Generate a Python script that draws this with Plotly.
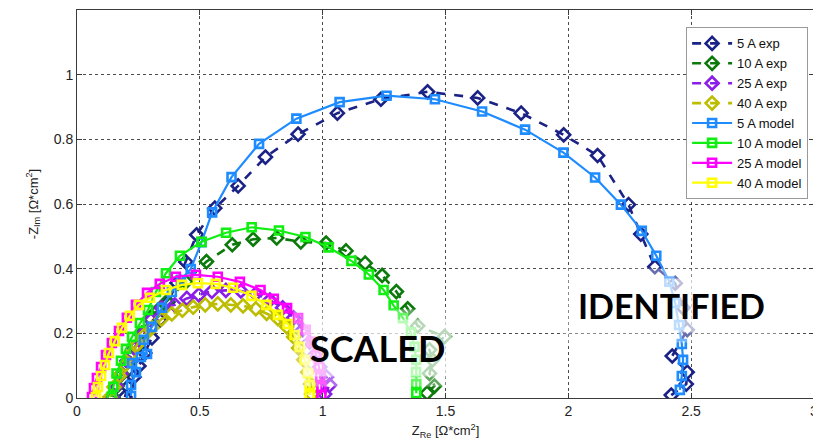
import plotly.graph_objects as go

# ---------------- data (Z_Re, -Z_Im) ----------------
exp5_x = [0.195, 0.207, 0.232, 0.252, 0.276, 0.305, 0.337, 0.370, 0.407, 0.443, 0.487, 0.561, 0.656, 0.767, 0.900, 1.060, 1.237, 1.427, 1.631, 1.808, 1.981, 2.119, 2.245, 2.295, 2.352, 2.435, 2.467, 2.484, 2.423, 2.484, 2.480, 2.419]
exp5_y = [0.003, 0.034, 0.065, 0.099, 0.139, 0.186, 0.241, 0.297, 0.356, 0.421, 0.505, 0.587, 0.656, 0.745, 0.816, 0.881, 0.924, 0.947, 0.928, 0.881, 0.814, 0.750, 0.598, 0.507, 0.406, 0.355, 0.279, 0.211, 0.130, 0.080, 0.043, 0.009]

exp10_x = [0.146, 0.163, 0.183, 0.207, 0.236, 0.264, 0.297, 0.330, 0.365, 0.443, 0.527, 0.632, 0.717, 0.813, 0.911, 1.014, 1.095, 1.173, 1.242, 1.300, 1.346, 1.387, 1.496, 1.435, 1.447, 1.435, 1.455, 1.425]
exp10_y = [0.003, 0.037, 0.074, 0.111, 0.155, 0.201, 0.247, 0.272, 0.298, 0.359, 0.422, 0.474, 0.491, 0.495, 0.483, 0.479, 0.455, 0.417, 0.379, 0.329, 0.276, 0.223, 0.190, 0.149, 0.118, 0.076, 0.037, 0.015]

exp25_x = [0.142, 0.159, 0.179, 0.203, 0.232, 0.264, 0.301, 0.344, 0.398, 0.447, 0.496, 0.549, 0.606, 0.667, 0.728, 0.785, 0.837, 0.882, 0.919, 0.947, 0.967, 0.988, 1.016, 1.028, 1.008]
exp25_y = [0.003, 0.037, 0.074, 0.115, 0.155, 0.195, 0.241, 0.278, 0.288, 0.308, 0.319, 0.330, 0.333, 0.331, 0.322, 0.303, 0.279, 0.248, 0.211, 0.173, 0.133, 0.096, 0.065, 0.040, 0.012]

exp40_x = [0.134, 0.150, 0.171, 0.195, 0.220, 0.244, 0.272, 0.305, 0.344, 0.386, 0.429, 0.473, 0.522, 0.573, 0.626, 0.676, 0.728, 0.772, 0.818, 0.854, 0.882, 0.902, 0.923, 0.939, 0.951, 0.955]
exp40_y = [0.003, 0.034, 0.068, 0.102, 0.136, 0.164, 0.192, 0.217, 0.244, 0.260, 0.272, 0.281, 0.288, 0.291, 0.288, 0.285, 0.276, 0.262, 0.245, 0.220, 0.189, 0.155, 0.118, 0.080, 0.043, 0.012]

mod5_x = [0.220, 0.220, 0.240, 0.224, 0.260, 0.285, 0.272, 0.305, 0.346, 0.386, 0.423, 0.463, 0.507, 0.550, 0.629, 0.741, 0.893, 1.069, 1.260, 1.457, 1.649, 1.824, 1.980, 2.109, 2.214, 2.299, 2.358, 2.411, 2.435, 2.451, 2.462, 2.467, 2.462, 2.454]
mod5_y = [0.006, 0.040, 0.080, 0.108, 0.127, 0.136, 0.180, 0.220, 0.279, 0.328, 0.365, 0.399, 0.482, 0.574, 0.683, 0.786, 0.864, 0.915, 0.935, 0.924, 0.886, 0.830, 0.759, 0.682, 0.598, 0.517, 0.440, 0.360, 0.294, 0.226, 0.167, 0.118, 0.068, 0.025]

mod10_x = [0.141, 0.148, 0.161, 0.179, 0.199, 0.224, 0.256, 0.289, 0.321, 0.362, 0.419, 0.507, 0.607, 0.711, 0.822, 0.930, 1.024, 1.117, 1.188, 1.248, 1.289, 1.327, 1.359, 1.374, 1.381, 1.380, 1.381, 1.381]
mod10_y = [0.004, 0.035, 0.076, 0.115, 0.152, 0.189, 0.232, 0.272, 0.328, 0.386, 0.440, 0.483, 0.511, 0.528, 0.518, 0.498, 0.466, 0.424, 0.382, 0.334, 0.286, 0.247, 0.203, 0.158, 0.118, 0.080, 0.043, 0.015]

mod25_x = [0.061, 0.069, 0.081, 0.098, 0.118, 0.142, 0.171, 0.203, 0.240, 0.285, 0.337, 0.402, 0.484, 0.573, 0.663, 0.747, 0.801, 0.855, 0.900, 0.931, 0.954, 0.974, 0.985, 0.990, 0.995, 0.995]
mod25_y = [0.003, 0.031, 0.062, 0.096, 0.133, 0.170, 0.207, 0.248, 0.288, 0.325, 0.353, 0.375, 0.381, 0.375, 0.359, 0.334, 0.307, 0.278, 0.247, 0.211, 0.174, 0.133, 0.097, 0.065, 0.034, 0.009]

mod40_x = [0.077, 0.085, 0.098, 0.114, 0.130, 0.154, 0.183, 0.215, 0.252, 0.297, 0.362, 0.427, 0.492, 0.565, 0.635, 0.710, 0.771, 0.818, 0.858, 0.886, 0.907, 0.927, 0.940, 0.947, 0.947]
mod40_y = [0.003, 0.034, 0.068, 0.102, 0.139, 0.176, 0.217, 0.254, 0.288, 0.310, 0.334, 0.350, 0.355, 0.353, 0.341, 0.316, 0.288, 0.257, 0.229, 0.195, 0.158, 0.118, 0.077, 0.040, 0.009]

x_ticks = [0, 0.5, 1, 1.5, 2, 2.5, 3]
x_tick_labels = ["0", "0.5", "1", "1.5", "2", "2.5", "3"]
y_ticks = [0, 0.2, 0.4, 0.6, 0.8, 1.0]
y_tick_labels = ["0", "0.2", "0.4", "0.6", "0.8", "1"]

# ---------------- figure ----------------
fig = go.Figure()

exp_series = [
    ("5 A exp", exp5_x, exp5_y, "#1b2286"),
    ("10 A exp", exp10_x, exp10_y, "#0b7a0b"),
    ("25 A exp", exp25_x, exp25_y, "#8a1ee8"),
    ("40 A exp", exp40_x, exp40_y, "#bdbd00"),
]
mod_series = [
    ("5 A model", mod5_x, mod5_y, "#1e8cff"),
    ("10 A model", mod10_x, mod10_y, "#11ee11"),
    ("25 A model", mod25_x, mod25_y, "#ff00ff"),
    ("40 A model", mod40_x, mod40_y, "#ffff00"),
]

for name, xs, ys, col in exp_series:
    fig.add_trace(go.Scatter(
        x=xs, y=ys, name=name, mode="lines+markers",
        line=dict(color=col, width=2.6, dash="dash"),
        marker=dict(symbol="diamond-open", size=10, color=col, line=dict(width=2.6, color=col)),
    ))
for name, xs, ys, col in mod_series:
    fig.add_trace(go.Scatter(
        x=xs, y=ys, name=name, mode="lines+markers",
        line=dict(color=col, width=2.2),
        marker=dict(symbol="square-open", size=8, color=col, line=dict(width=2.6, color=col)),
    ))

axis_common = dict(
    showline=True, linecolor="#3a3a3a", linewidth=1, mirror="ticks",
    ticks="inside", ticklen=5, tickcolor="#3a3a3a",
    showgrid=True, gridcolor="rgba(30,30,30,0.8)", griddash="dot", gridwidth=1,
    zeroline=False, ticklabeloverflow="allow",
    tickfont=dict(family="Arial, Liberation Sans, sans-serif", size=14, color="#222"),
    title_font=dict(family="Arial, Liberation Sans, sans-serif", size=13, color="#222"),
)

fig.update_xaxes(range=[0, 3], tickvals=x_ticks, ticktext=x_tick_labels,
                 title_text="Z<sub>Re</sub> [Ω*cm<sup>2</sup>]", title_standoff=8, **axis_common)
fig.update_yaxes(range=[0, 1.2], tickvals=y_ticks, ticktext=y_tick_labels,
                 title_text="-Z<sub>Im</sub> [Ω*cm<sup>2</sup>]", title_standoff=12, **axis_common)

# soft white halo behind the labels (outer faint box + inner stronger box)
labels = [
    ("SCALED", 1.224, 0.155, 36),
    ("IDENTIFIED", 2.419, 0.285, 34),
]
for txt, lx, ly, fs in labels:
    fig.add_annotation(x=lx, y=ly, xref="x", yref="y", text="<b>" + txt + "</b>",
                       showarrow=False,
                       font=dict(family="Lato, Roboto, sans-serif", size=fs, color="rgba(0,0,0,0)"),
                       bgcolor="rgba(255,255,255,0.35)", borderpad=16)
    fig.add_annotation(x=lx, y=ly, xref="x", yref="y", text="<b>" + txt + "</b>",
                       showarrow=False,
                       font=dict(family="Lato, Roboto, sans-serif", size=fs, color="#000000"),
                       bgcolor="rgba(255,255,255,0.55)", borderpad=6)

# page body adds an 8px offset; figure sized so the plot area lands where the reference has it
fig.update_layout(
    width=813, height=437,
    margin=dict(l=69, r=7, t=2, b=47),
    paper_bgcolor="white", plot_bgcolor="white",
    showlegend=True,
    legend=dict(
        x=0.992, y=0.955, xanchor="right", yanchor="top",
        bgcolor="white", bordercolor="#9a9a9a", borderwidth=1,
        font=dict(family="Arial, Liberation Sans, sans-serif", size=13, color="#111"),
        tracegroupgap=0, itemwidth=40,
    ),
)

fig.write_html("out.html")
